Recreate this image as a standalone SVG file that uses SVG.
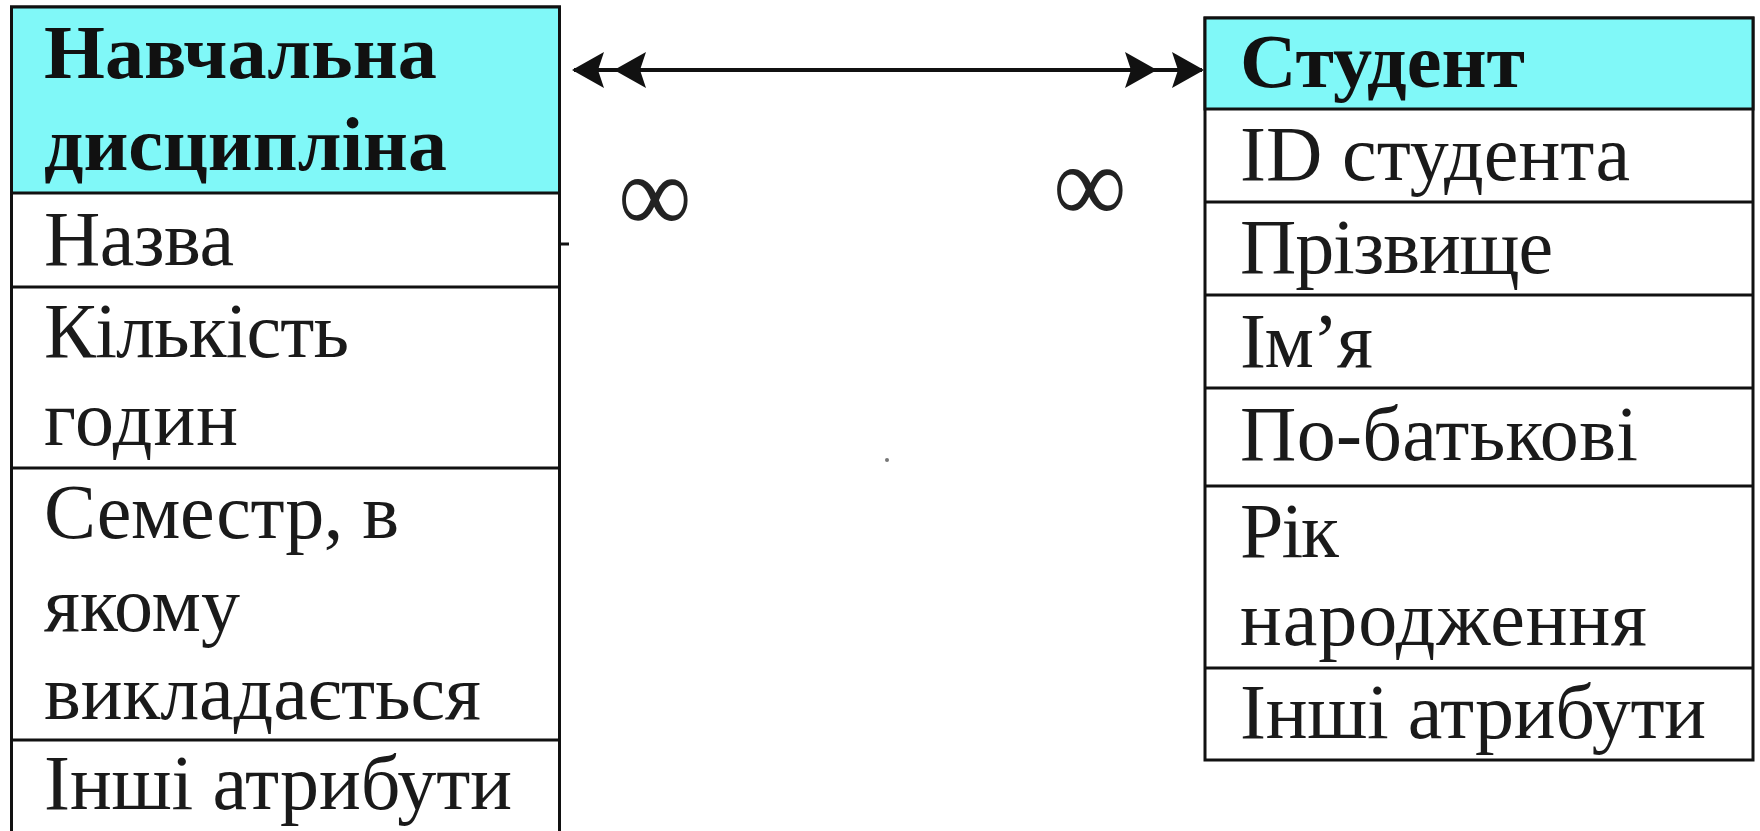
<svg xmlns="http://www.w3.org/2000/svg" width="1760" height="831" viewBox="0 0 1760 831">
<defs>
<style>
.bg{fill:#ffffff}
.box{fill:#ffffff;stroke:#111;stroke-width:3}
.hdr{fill:#80f8f8;stroke:#111;stroke-width:3}
.sep{stroke:#111;stroke-width:3;fill:none}
.h{font-family:"Liberation Serif","DejaVu Serif",serif;font-weight:bold;font-size:76px;fill:#111}
.t{font-family:"Liberation Serif","DejaVu Serif",serif;font-size:78px;fill:#1a1a1a}
.inf{font-family:"Liberation Serif","DejaVu Serif",serif;font-size:92px;fill:#222;text-anchor:middle}
.conn{stroke:#111;stroke-width:4;fill:none}
.ah{fill:#111}
</style>
<path id="head" d="M0,0 L-32,-18 L-26,0 L-32,18 Z"/>
</defs>
<rect class="bg" x="0" y="0" width="1760" height="831"/>

<g id="connectors">
<line class="conn" x1="574" y1="70" x2="1202" y2="70"/>
<use href="#head" class="ah" transform="translate(572,70) rotate(180)"/>
<use href="#head" class="ah" transform="translate(614,70) rotate(180)"/>
<use href="#head" class="ah" transform="translate(1157,70)"/>
<use href="#head" class="ah" transform="translate(1204,70)"/>
<text class="inf" transform="translate(655,198) scale(1.12,1.2)" x="0" y="28">∞</text>
<text class="inf" transform="translate(1090,188) scale(1.12,1.2)" x="0" y="28">∞</text>
<line class="sep" x1="559" y1="244" x2="569" y2="244"/>
<circle cx="887" cy="460" r="2" fill="#777"/>
</g>

<g id="node-discipline">
<rect class="box" x="11.5" y="7" width="548" height="840"/>
<rect class="hdr" x="11.5" y="7" width="548" height="186"/>
<line class="sep" x1="11.5" y1="287" x2="559.5" y2="287"/>
<line class="sep" x1="11.5" y1="468" x2="559.5" y2="468"/>
<line class="sep" x1="11.5" y1="740" x2="559.5" y2="740"/>
<text class="h" x="44" y="78" textLength="393" lengthAdjust="spacingAndGlyphs">Навчальна</text>
<text class="h" x="44" y="170" textLength="403" lengthAdjust="spacingAndGlyphs">дисципліна</text>
<text class="t" x="44" y="265" textLength="190" lengthAdjust="spacing">Назва</text>
<text class="t" x="44" y="357" textLength="305" lengthAdjust="spacing">Кількість</text>
<text class="t" x="44" y="445" textLength="194" lengthAdjust="spacing">годин</text>
<text class="t" x="44" y="538" textLength="355" lengthAdjust="spacing">Семестр, в</text>
<text class="t" x="44" y="631" textLength="196" lengthAdjust="spacing">якому</text>
<text class="t" x="44" y="719" textLength="437" lengthAdjust="spacing">викладається</text>
<text class="t" x="44" y="809" textLength="468" lengthAdjust="spacing">Інші атрибути</text>
</g>

<g id="node-student">
<rect class="box" x="1205" y="18" width="548" height="742"/>
<rect class="hdr" x="1205" y="18" width="548" height="91"/>
<line class="sep" x1="1205" y1="202" x2="1753" y2="202"/>
<line class="sep" x1="1205" y1="295" x2="1753" y2="295"/>
<line class="sep" x1="1205" y1="388" x2="1753" y2="388"/>
<line class="sep" x1="1205" y1="486" x2="1753" y2="486"/>
<line class="sep" x1="1205" y1="668" x2="1753" y2="668"/>
<text class="h" x="1240" y="87" textLength="285" lengthAdjust="spacingAndGlyphs">Студент</text>
<text class="t" x="1240" y="180" textLength="390" lengthAdjust="spacing">ID студента</text>
<text class="t" x="1240" y="273" textLength="313" lengthAdjust="spacing">Прізвище</text>
<text class="t" x="1240" y="367" textLength="133" lengthAdjust="spacing">Ім’я</text>
<text class="t" x="1240" y="460" textLength="398" lengthAdjust="spacing">По-батькові</text>
<text class="t" x="1240" y="557" textLength="99" lengthAdjust="spacing">Рік</text>
<text class="t" x="1240" y="645" textLength="407" lengthAdjust="spacing">народження</text>
<text class="t" x="1240" y="738" textLength="466" lengthAdjust="spacing">Інші атрибути</text>
</g>
</svg>
